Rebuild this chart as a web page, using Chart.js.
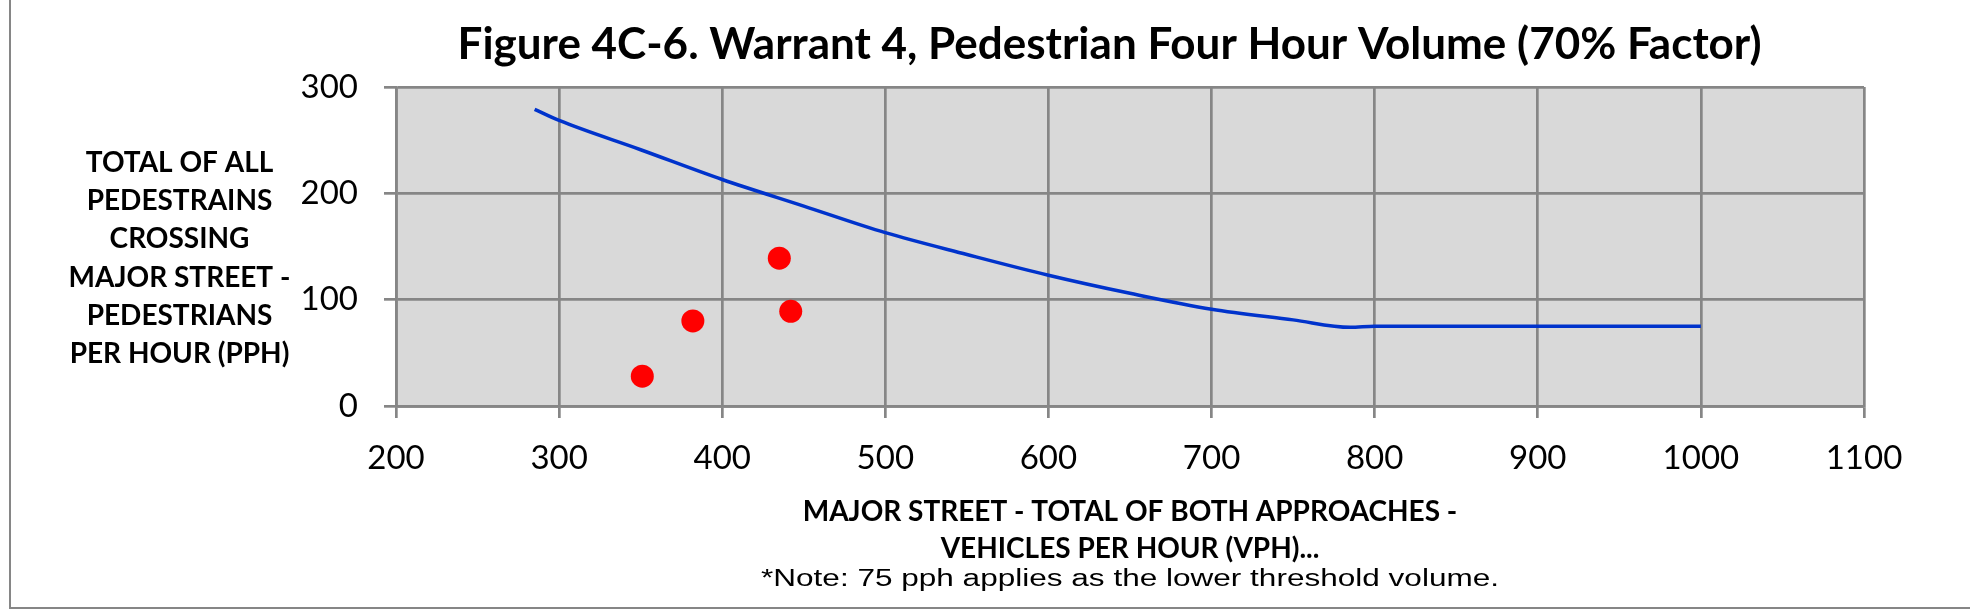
<!DOCTYPE html>
<html lang="en">
<head>
  <meta charset="UTF-8">
  <title>Figure 4C-6. Warrant 4, Pedestrian Four Hour Volume (70% Factor)</title>
  <script src="https://cdn.jsdelivr.net/npm/chart.js"></script>
  <style>
    * { margin: 0; padding: 0; box-sizing: border-box; }
    body { background: #fff; width: 1970px; height: 610px; overflow: hidden; }
    .wrap { position: relative; width: 1970px; height: 610px; }
    .edge-left { position: absolute; left: 9px; top: 0; width: 2px; height: 609px; background: #868686; }
    .edge-bottom { position: absolute; left: 9px; top: 607px; width: 1961px; height: 2px; background: #868686; }
  </style>
</head>
<body>
  <div class="wrap">
    <canvas id="chart"></canvas>
    <div class="edge-left"></div>
    <div class="edge-bottom"></div>
  </div>

  <script>
    // warrant curve (70% factor)
    const curveX = [285, 300, 350, 400, 450, 500, 550, 600, 650, 700, 750, 785, 800, 1000];
    const curveY = [279, 268.5, 241, 213, 188, 163, 142.5, 123, 106, 91, 81, 74, 75, 75];

    // counted hours
    const countX = [351, 382, 435, 442];
    const countY = [28, 80, 139, 89];

    const xTicks = [200, 300, 400, 500, 600, 700, 800, 900, 1000, 1100];
    const yTicks = [0, 100, 200, 300];

    const titleText = 'Figure 4C-6. Warrant 4, Pedestrian Four Hour Volume (70% Factor)';
    const xTitleLines = ['MAJOR STREET - TOTAL OF BOTH APPROACHES -', 'VEHICLES PER HOUR (VPH)...'];
    const yTitleLines = ['TOTAL OF ALL', 'PEDESTRAINS', 'CROSSING', 'MAJOR STREET -', 'PEDESTRIANS', 'PER HOUR (PPH)'];
    const noteText = '*Note: 75 pph applies as the lower threshold volume.';

    const GRID = '#868686';
    const FONT = 'Lato, "Open Sans", sans-serif';

    const toPoints = (xs, ys) => xs.map((x, i) => ({ x: x, y: ys[i] }));

    // plot fill, horizontal y title and the footnote
    const extras = {
      id: 'extras',
      beforeDraw(chart) {
        const { ctx, chartArea: a } = chart;
        ctx.save();
        ctx.fillStyle = '#d9d9d9';
        ctx.fillRect(a.left, a.top, a.right - a.left, a.bottom - a.top);
        ctx.restore();
      },
      afterDraw(chart) {
        const { ctx, chartArea: a } = chart;
        ctx.save();
        ctx.fillStyle = '#000';
        ctx.textAlign = 'center';
        ctx.textBaseline = 'alphabetic';

        ctx.font = 'bold 28px ' + FONT;
        yTitleLines.forEach((line, i) => {
          ctx.fillText(line, a.left - 216.5, a.top + 75 + i * 38.2 + 10);
        });

        // narrow sans for the note
        ctx.font = '23px "Liberation Sans", Arial, sans-serif';
        const w = ctx.measureText(noteText).width;
        ctx.translate((a.left + a.right) / 2, 586);
        ctx.scale(738 / w, 1);
        ctx.fillText(noteText, 0, 0);
        ctx.restore();
      }
    };

    const fixSize = (w, h) => (scale) => {
      if (w != null) scale.width = w;
      if (h != null) scale.height = h;
    };

    const gridOpts = { color: GRID, lineWidth: 2.7, drawTicks: true, tickLength: 12, tickColor: GRID, tickWidth: 2.7 };
    const tickFont = { family: FONT, size: 33, lineHeight: 1.2 };

    new Chart(document.getElementById('chart'), {
      type: 'scatter',
      data: {
        datasets: [
          {
            data: toPoints(curveX, curveY),
            showLine: true,
            borderColor: '#0033cc',
            borderWidth: 3.5,
            pointRadius: 0,
            cubicInterpolationMode: 'monotone',
            order: 2
          },
          {
            data: toPoints(countX, countY),
            showLine: false,
            backgroundColor: '#ff0000',
            borderWidth: 0,
            pointRadius: 11.5,
            order: 1
          }
        ]
      },
      options: {
        responsive: true,
        maintainAspectRatio: false,
        animation: false,
        events: [],
        layout: { padding: { left: 249, right: 0, top: 0, bottom: 42.5 } },
        plugins: {
          legend: { display: false },
          tooltip: { enabled: false },
          title: {
            display: true,
            text: titleText,
            color: '#000',
            font: { family: FONT, size: 44, weight: 'bold', lineHeight: 1.2 },
            padding: { top: 18.6, bottom: 15.6 }
          }
        },
        scales: {
          x: {
            type: 'linear',
            min: xTicks[0],
            max: xTicks[xTicks.length - 1],
            afterBuildTicks: (s) => { s.ticks = xTicks.map(v => ({ value: v })); },
            afterFit: fixSize(null, 161.5),
            grid: gridOpts,
            border: { color: GRID, width: 2.7 },
            ticks: { color: '#000', padding: 21, maxRotation: 0, font: tickFont, callback: (v) => String(v) },
            title: {
              display: true,
              text: xTitleLines,
              color: '#000',
              font: { family: FONT, size: 28, weight: 'bold', lineHeight: 1.32 },
              padding: { top: 0, bottom: 0 }
            }
          },
          y: {
            type: 'linear',
            min: yTicks[0],
            max: yTicks[yTicks.length - 1],
            afterBuildTicks: (s) => { s.ticks = yTicks.map(v => ({ value: v })); },
            afterFit: fixSize(147, null),
            grid: gridOpts,
            border: { color: GRID, width: 2.7 },
            ticks: { color: '#000', padding: 26, font: tickFont, callback: (v) => String(v) }
          },
          // empty box on the right keeps the plot short of the page edge
          spacer: {
            type: 'linear',
            position: 'right',
            display: true,
            afterFit: fixSize(106, null),
            grid: { display: false, drawTicks: false },
            border: { display: false },
            ticks: { display: false }
          }
        }
      },
      plugins: [extras]
    });
  </script>
</body>
</html>
